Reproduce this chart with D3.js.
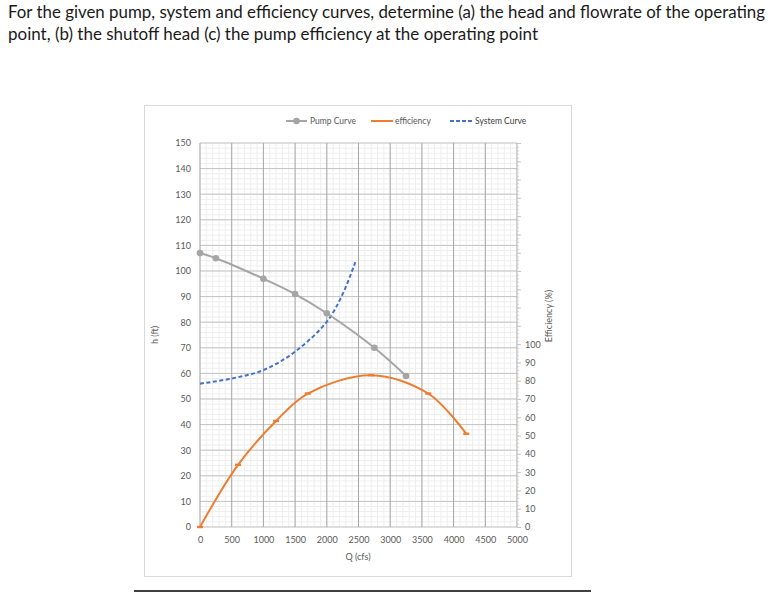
<!DOCTYPE html>
<html>
<head>
<meta charset="utf-8">
<script src="https://cdn.jsdelivr.net/npm/d3@7"></script>
<style>
  body { margin: 0; background: #fff; }
  svg { display: block; font-family: Lato, "Open Sans", sans-serif; }
</style>
</head>
<body>
<svg id="chart" width="769" height="614"></svg>
<script>
"use strict";

// question text above the chart
const titleLines = [
  "For the given pump, system and efficiency curves, determine (a) the head and flowrate of the operating",
  "point, (b) the shutoff head (c) the pump efficiency at the operating point"
];

// pump curve, h (ft) vs Q (cfs)
const pumpQ = [0, 250, 1000, 1500, 2000, 2750, 3250];
const pumpH = [107, 105, 97, 91, 83.5, 70, 59];

// efficiency (%) vs Q, read on the right axis
const effQ = [0, 600, 1200, 1700, 2700, 3600, 4200];
const effPct = [0, 34, 58, 73, 83, 73, 51];

// system curve, h (ft) vs Q
const sysQ = [0, 500, 1000, 1500, 2000, 2250, 2450];
const sysH = [56, 58, 61.3, 68.5, 80.2, 91, 103.5];

const qTicks = [0, 500, 1000, 1500, 2000, 2500, 3000, 3500, 4000, 4500, 5000];
const hTicks = [0, 10, 20, 30, 40, 50, 60, 70, 80, 90, 100, 110, 120, 130, 140, 150];
const effTicks = [0, 10, 20, 30, 40, 50, 60, 70, 80, 90, 100];

const svg = d3.select("#chart");
const plot = {left: 200, top: 143, width: 317, height: 384};
const labelColor = "#595959";

svg.append("rect").attr("width", 769).attr("height", 614).attr("fill", "#fff");

// title
titleLines.forEach((t, i) => {
  svg.append("text")
    .attr("x", 8)
    .attr("y", 18 + i * 22)
    .attr("font-size", 16.5)
    .attr("fill", "#1a1a1a")
    .attr("textLength", i === 0 ? 757 : 530)
    .attr("lengthAdjust", "spacingAndGlyphs")
    .text(t);
});

// chart frame + rule under it
svg.append("rect")
  .attr("x", 144.5).attr("y", 105.5)
  .attr("width", 427).attr("height", 471)
  .attr("fill", "#fff")
  .attr("stroke", "#d9d9d9");

svg.append("line")
  .attr("x1", 134).attr("x2", 591)
  .attr("y1", 591).attr("y2", 591)
  .attr("stroke", "#404040")
  .attr("stroke-width", 2);

const x = d3.scaleLinear().domain([0, 5000]).range([0, plot.width]);
const yH = d3.scaleLinear().domain([0, 150]).range([plot.height, 0]);
const yEff = d3.scaleLinear().domain([0, 210]).range([plot.height, 0]);

const chart = svg.append("g")
  .attr("transform", `translate(${plot.left}, ${plot.top})`);

// minor grid
chart.append("g").selectAll("line")
  .data(d3.range(0, 5001, 100))
  .enter().append("line")
  .attr("x1", d => x(d)).attr("x2", d => x(d))
  .attr("y1", 0).attr("y2", plot.height)
  .attr("stroke", "#eeeeee");

chart.append("g").selectAll("line")
  .data(d3.range(0, 151, 2))
  .enter().append("line")
  .attr("x1", 0).attr("x2", plot.width)
  .attr("y1", d => yH(d)).attr("y2", d => yH(d))
  .attr("stroke", "#eeeeee");

// major grid
chart.append("g").selectAll("line")
  .data(hTicks)
  .enter().append("line")
  .attr("x1", 0).attr("x2", plot.width)
  .attr("y1", d => yH(d)).attr("y2", d => yH(d))
  .attr("stroke", "#c4c4c4");

chart.append("g").selectAll("line")
  .data(qTicks)
  .enter().append("line")
  .attr("x1", d => x(d)).attr("x2", d => x(d))
  .attr("y1", 0).attr("y2", plot.height)
  .attr("stroke", "#a6a6a6");

// axes
function styleAxis(g) {
  g.select(".domain").remove();
  g.selectAll("text")
    .attr("fill", labelColor)
    .attr("font-size", 9)
    .attr("font-family", "Lato, sans-serif");
}

chart.append("g")
  .attr("transform", `translate(0, ${plot.height})`)
  .call(d3.axisBottom(x).tickValues(qTicks).tickSize(0).tickPadding(10).tickFormat(d3.format("d")))
  .call(styleAxis);

chart.append("g")
  .call(d3.axisLeft(yH).tickValues(hTicks).tickSize(0).tickPadding(9))
  .call(styleAxis);

// right axis: ruler ticks all the way up, labels only 0-100
chart.append("g")
  .attr("transform", `translate(${plot.width}, 0)`)
  .call(d3.axisRight(yEff).tickValues(d3.range(0, 211, 2)).tickSize(2).tickFormat(""))
  .call(g => g.select(".domain").attr("stroke", "#dadada"))
  .call(g => g.selectAll(".tick line").attr("stroke", "#d0d0d0"));

chart.append("g")
  .attr("transform", `translate(${plot.width}, 0)`)
  .call(d3.axisRight(yEff).tickValues(d3.range(0, 211, 10)).tickSize(4).tickPadding(4)
    .tickFormat(d => effTicks.includes(d) ? d : ""))
  .call(styleAxis)
  .call(g => g.selectAll("line").attr("stroke", "#c4c4c4"));

// axis titles
svg.append("text")
  .attr("transform", "translate(158, 335) rotate(-90)")
  .attr("text-anchor", "middle")
  .attr("font-size", 9)
  .attr("fill", labelColor)
  .text("h (ft)");

svg.append("text")
  .attr("transform", "translate(552, 316) rotate(-90)")
  .attr("text-anchor", "middle")
  .attr("font-size", 9)
  .attr("fill", labelColor)
  .text("Efficiency (%)");

svg.append("text")
  .attr("x", 358).attr("y", 560)
  .attr("text-anchor", "middle")
  .attr("font-size", 9)
  .attr("fill", labelColor)
  .text("Q (cfs)");

// series
const curve = d3.curveCatmullRom.alpha(0.5);

const pumpData = pumpQ.map((q, i) => ({q: q, v: pumpH[i]}));
const effData = effQ.map((q, i) => ({q: q, v: effPct[i]}));
const sysData = sysQ.map((q, i) => ({q: q, v: sysH[i]}));

const hLine = d3.line().x(d => x(d.q)).y(d => yH(d.v)).curve(curve);
const effLine = d3.line().x(d => x(d.q)).y(d => yEff(d.v)).curve(curve);

chart.append("path")
  .datum(sysData)
  .attr("d", hLine)
  .attr("fill", "none")
  .attr("stroke", "#4472c4")
  .attr("stroke-width", 2)
  .attr("stroke-dasharray", "4,2.5");

chart.append("path")
  .datum(effData)
  .attr("d", effLine)
  .attr("fill", "none")
  .attr("stroke", "#ed7d31")
  .attr("stroke-width", 2);

chart.selectAll(".effMark")
  .data(effData)
  .enter().append("rect")
  .attr("class", "effMark")
  .attr("x", d => x(d.q) - 3)
  .attr("y", d => yEff(d.v) - 1.2)
  .attr("width", 6).attr("height", 2.4)
  .attr("fill", "#ed7d31");

chart.append("path")
  .datum(pumpData)
  .attr("d", hLine)
  .attr("fill", "none")
  .attr("stroke", "#a5a5a5")
  .attr("stroke-width", 2);

chart.selectAll(".pumpMark")
  .data(pumpData)
  .enter().append("circle")
  .attr("class", "pumpMark")
  .attr("cx", d => x(d.q))
  .attr("cy", d => yH(d.v))
  .attr("r", 3.3)
  .attr("fill", "#a5a5a5");

// legend
const legend = svg.append("g").attr("transform", "translate(0, 121)");

legend.append("line").attr("x1", 286).attr("x2", 307).attr("stroke", "#a5a5a5").attr("stroke-width", 2);
legend.append("circle").attr("cx", 296.5).attr("r", 3.3).attr("fill", "#a5a5a5");
legend.append("text").attr("x", 310).attr("y", 3).attr("font-size", 8.5).attr("fill", labelColor).text("Pump Curve");

legend.append("line").attr("x1", 371).attr("x2", 393).attr("stroke", "#ed7d31").attr("stroke-width", 2);
legend.append("text").attr("x", 395).attr("y", 3).attr("font-size", 8.5).attr("fill", labelColor).text("efficiency");

legend.append("line").attr("x1", 450).attr("x2", 473).attr("stroke", "#4472c4").attr("stroke-width", 2)
  .attr("stroke-dasharray", "4,2");
legend.append("text").attr("x", 475).attr("y", 3).attr("font-size", 8.5).attr("fill", "#404040").text("System Curve");
</script>
</body>
</html>
